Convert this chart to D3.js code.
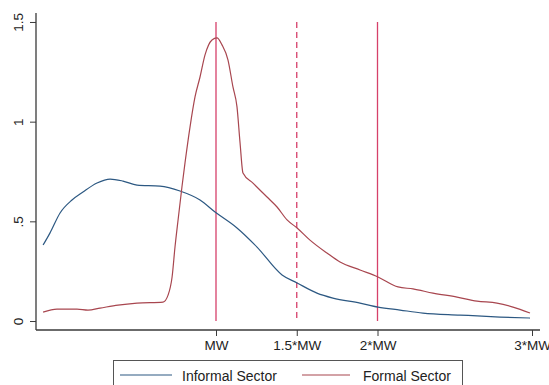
<!DOCTYPE html>
<html>
<head>
<meta charset="utf-8">
<script src="https://cdn.jsdelivr.net/npm/d3@7"></script>
<style>
  html, body { margin: 0; padding: 0; background: #fff; }
  svg { display: block; font-family: "Liberation Sans", Arial, sans-serif; }
</style>
</head>
<body>
<svg id="chart" width="549" height="385"></svg>
<script>
// Wage expressed in multiples of the minimum wage (MW)
const informalWage = [-0.071, -0.028, 0.034, 0.108, 0.176, 0.263, 0.344, 0.424, 0.511, 0.653, 0.777, 0.901, 0.994, 1.13, 1.254, 1.409, 1.502, 1.625, 1.724, 1.892, 2.003, 2.146, 2.294, 2.534, 2.793, 2.987];
const informalDensity = [0.381, 0.442, 0.542, 0.607, 0.647, 0.692, 0.712, 0.702, 0.682, 0.677, 0.652, 0.607, 0.547, 0.467, 0.371, 0.231, 0.191, 0.14, 0.115, 0.09, 0.07, 0.055, 0.04, 0.03, 0.02, 0.015];

const formalWage = [-0.071, 0.015, 0.139, 0.207, 0.282, 0.393, 0.511, 0.672, 0.703, 0.728, 0.746, 0.765, 0.789, 0.808, 0.839, 0.87, 0.901, 0.932, 0.975, 1.006, 1.037, 1.074, 1.105, 1.13, 1.149, 1.167, 1.229, 1.316, 1.378, 1.44, 1.502, 1.582, 1.687, 1.768, 1.892, 2.003, 2.133, 2.23, 2.359, 2.515, 2.644, 2.773, 2.877, 2.987];
const formalDensity = [0.045, 0.06, 0.06, 0.055, 0.065, 0.08, 0.09, 0.095, 0.13, 0.221, 0.371, 0.507, 0.672, 0.793, 0.973, 1.124, 1.224, 1.335, 1.41, 1.42, 1.385, 1.31, 1.174, 1.074, 0.893, 0.743, 0.692, 0.622, 0.572, 0.507, 0.467, 0.406, 0.341, 0.296, 0.256, 0.221, 0.171, 0.161, 0.14, 0.12, 0.1, 0.09, 0.07, 0.04];

const xTickValues = [1, 1.5, 2, 3];
const xTickLabels = ["MW", "1.5*MW", "2*MW", "3*MW"];
const yTickValues = [0, 0.5, 1, 1.5];
const yTickLabels = ["0", ".5", "1", "1.5"];

// Reference lines at MW, 1.5*MW (dashed) and 2*MW
const refLines = [1, 1.5, 2];
const refDashed = [false, true, false];

const seriesNames = ["Informal Sector", "Formal Sector"];
const seriesColors = ["#2c5882", "#a8464f"];

const svg = d3.select("#chart");

// Piecewise-linear wage axis anchored on the MW multiples
const x = d3.scaleLinear().domain([-0.115, 1, 2, 3, 3.052]).range([36, 216, 377.5, 532, 540]);
const y = d3.scaleLinear().domain([-0.045, 1.545]).range([330, 13]);

const axisColor = "#3a3a3a";

// Y axis
const yAxis = svg.append("g")
  .attr("transform", "translate(36,0)")
  .call(d3.axisLeft(y).tickValues(yTickValues).tickSize(6).tickPadding(0)
    .tickFormat((d, i) => yTickLabels[i]));
yAxis.select(".domain").attr("stroke", axisColor).attr("stroke-width", 1.3)
  .attr("d", `M0,${y.range()[1]}V${y.range()[0]}`);
yAxis.selectAll(".tick line").attr("stroke", axisColor);
yAxis.selectAll(".tick text")
  .attr("x", 0).attr("dy", null)
  .attr("transform", "translate(-17,0) rotate(-90)")
  .attr("text-anchor", "middle")
  .attr("dominant-baseline", "middle")
  .attr("font-size", 13.5).attr("fill", "#222");

// X axis
const xAxis = svg.append("g")
  .attr("transform", "translate(0,330)")
  .call(d3.axisBottom(x).tickValues(xTickValues).tickSize(6).tickPadding(4)
    .tickFormat((d, i) => xTickLabels[i]));
xAxis.select(".domain").attr("stroke", axisColor).attr("stroke-width", 1.3)
  .attr("d", `M${x.range()[0]},0H${x.range()[x.range().length - 1]}`);
xAxis.selectAll(".tick line").attr("stroke", axisColor);
xAxis.selectAll(".tick text").attr("font-size", 13.5).attr("fill", "#222");

// Vertical reference lines
svg.append("g").selectAll("line")
  .data(refLines)
  .join("line")
  .attr("x1", d => x(d)).attr("x2", d => x(d))
  .attr("y1", y(1.5)).attr("y2", y(0))
  .attr("stroke", "#d6406a")
  .attr("stroke-width", 1.3)
  .attr("stroke-dasharray", (d, i) => refDashed[i] ? "6,4" : null);

// Density curves
const line = d3.line().x(d => x(d[0])).y(d => y(d[1])).curve(d3.curveMonotoneX);
const series = [
  d3.zip(informalWage, informalDensity),
  d3.zip(formalWage, formalDensity)
];
svg.append("g").selectAll("path")
  .data(series)
  .join("path")
  .attr("d", line)
  .attr("fill", "none")
  .attr("stroke", (d, i) => seriesColors[i])
  .attr("stroke-width", 1.2);

// Legend
const legend = svg.append("g");
legend.append("rect")
  .attr("x", 113.5).attr("y", 360.5).attr("width", 349).attr("height", 40)
  .attr("fill", "#fff").attr("stroke", "#555").attr("stroke-width", 1);
const legendX = [[120, 172, 182], [302, 350, 363]];
seriesNames.forEach((name, i) => {
  legend.append("line")
    .attr("x1", legendX[i][0]).attr("x2", legendX[i][1])
    .attr("y1", 375).attr("y2", 375)
    .attr("stroke", seriesColors[i]).attr("stroke-width", 1.2);
  legend.append("text")
    .attr("x", legendX[i][2]).attr("y", 381)
    .attr("font-size", 14).attr("fill", "#222")
    .text(name);
});
</script>
</body>
</html>
